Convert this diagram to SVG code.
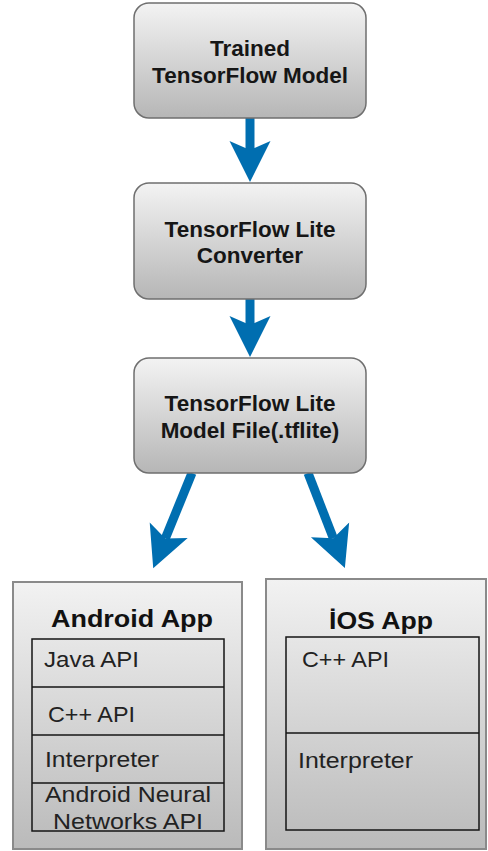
<svg xmlns="http://www.w3.org/2000/svg" width="488" height="851" viewBox="0 0 488 851">
<defs>
<linearGradient id="gNode" x1="0" y1="0" x2="0" y2="1">
<stop offset="0" stop-color="#f3f3f3"/>
<stop offset="1" stop-color="#b6b6b6"/>
</linearGradient>
<linearGradient id="gApp" x1="0" y1="0" x2="0" y2="1">
<stop offset="0" stop-color="#f2f2f2"/>
<stop offset="1" stop-color="#bababa"/>
</linearGradient>
<marker id="ah" markerUnits="userSpaceOnUse" markerWidth="50" markerHeight="50" viewBox="0 -25 50 50" refX="9" refY="0" orient="auto">
<path d="M0,-20.5 L41,0 L0,20.5 L9,0 Z" fill="#006eb0"/>
</marker>
</defs>
<style>
.node{fill:url(#gNode);stroke:#6f6f6f;stroke-width:1.5}
.app{fill:url(#gApp);stroke:#8a8a8a;stroke-width:2}
.inner{fill:none;stroke:#151515;stroke-width:1.5}
.lbl{font-family:"Liberation Sans",Arial,sans-serif;font-weight:bold;font-size:22.5px;fill:#161616;text-anchor:middle}
.ttl{font-family:"Liberation Sans",Arial,sans-serif;font-weight:bold;font-size:23px;fill:#111}
.itm{font-family:"Liberation Sans",Arial,sans-serif;font-size:22px;fill:#222}
.conn{stroke:#006eb0;stroke-width:9;fill:none;marker-end:url(#ah)}
</style>
<rect width="488" height="851" fill="#ffffff"/>
<g id="connectors">
<line class="conn" x1="250" y1="118" x2="250" y2="150"/>
<line class="conn" x1="250" y1="299" x2="250" y2="325"/>
<line class="conn" x1="192" y1="473" x2="165.3" y2="538.5"/>
<line class="conn" x1="308" y1="473" x2="333.3" y2="538.2"/>
</g>
<g id="node-trained">
<rect class="node" x="134" y="3" width="232" height="115" rx="15"/>
<text class="lbl" x="250" y="56">Trained</text>
<text class="lbl" x="250" y="83">TensorFlow Model</text>
</g>
<g id="node-converter">
<rect class="node" x="134" y="183" width="232" height="116" rx="15"/>
<text class="lbl" x="250" y="237">TensorFlow Lite</text>
<text class="lbl" x="250" y="263">Converter</text>
</g>
<g id="node-tflite">
<rect class="node" x="134" y="358" width="232" height="115" rx="15"/>
<text class="lbl" x="250" y="411">TensorFlow Lite</text>
<text class="lbl" x="250" y="438">Model File(.tflite)</text>
</g>
<g id="node-android">
<rect class="app" x="13" y="582" width="229" height="267"/>
<text class="ttl" x="51" y="627" textLength="162" lengthAdjust="spacingAndGlyphs">Android App</text>
<rect class="inner" x="32" y="639" width="192" height="192"/>
<line class="inner" x1="32" y1="687" x2="224" y2="687"/>
<line class="inner" x1="32" y1="735" x2="224" y2="735"/>
<line class="inner" x1="32" y1="783" x2="224" y2="783"/>
<text class="itm" x="44" y="667" textLength="95" lengthAdjust="spacingAndGlyphs">Java API</text>
<text class="itm" x="48" y="722" textLength="87" lengthAdjust="spacingAndGlyphs">C++ API</text>
<text class="itm" x="45" y="767" textLength="114" lengthAdjust="spacingAndGlyphs">Interpreter</text>
<text class="itm" x="45" y="802" textLength="166" lengthAdjust="spacingAndGlyphs">Android Neural</text>
<text class="itm" x="53" y="829" textLength="150" lengthAdjust="spacingAndGlyphs">Networks API</text>
</g>
<g id="node-ios">
<rect class="app" x="266" y="579" width="220" height="270"/>
<text class="ttl" x="329" y="629" textLength="104" lengthAdjust="spacingAndGlyphs">İOS App</text>
<rect class="inner" x="286" y="637" width="193" height="193"/>
<line class="inner" x1="286" y1="733" x2="479" y2="733"/>
<text class="itm" x="302" y="667" textLength="87" lengthAdjust="spacingAndGlyphs">C++ API</text>
<text class="itm" x="298" y="768" textLength="115" lengthAdjust="spacingAndGlyphs">Interpreter</text>
</g>
</svg>
